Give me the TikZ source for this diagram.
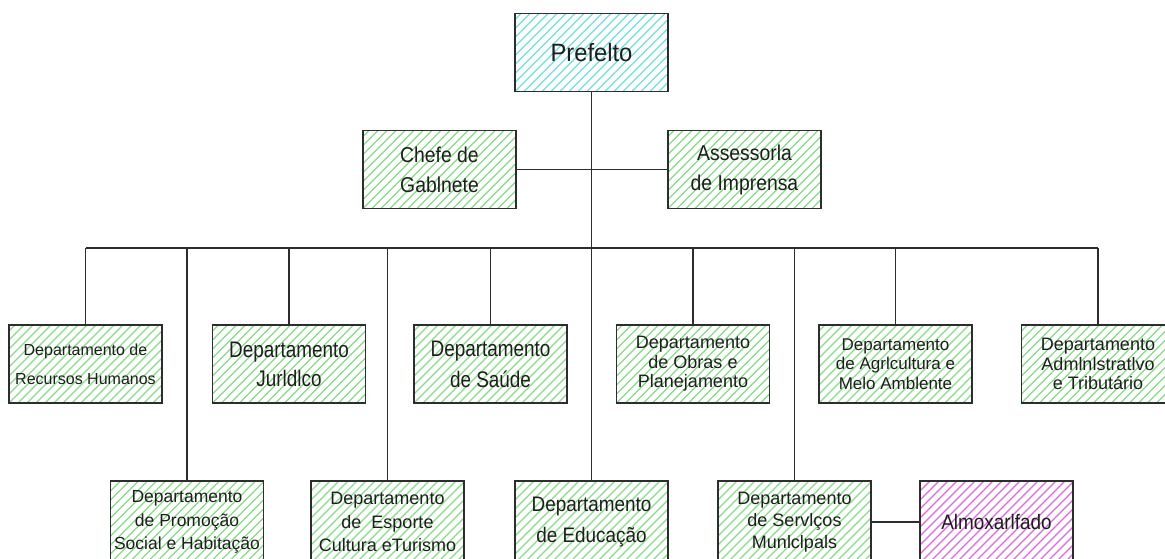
\documentclass[tikz,border=0pt]{standalone}
\usepackage{fontspec}
\setmainfont{Liberation Sans}
\newfontfamily\fNN[FakeStretch=0.84]{Liberation Sans}
\newfontfamily\fN[FakeStretch=0.9]{Liberation Sans}
\newfontfamily\fP[FakeStretch=0.95]{Liberation Sans}
\definecolor{hgreen}{RGB}{135,220,135}
\definecolor{hcyan}{RGB}{115,222,222}
\definecolor{hmag}{RGB}{222,105,222}
\definecolor{edge}{RGB}{45,45,45}
\definecolor{txt}{RGB}{30,30,30}
\tikzset{
  hatchbox/.style={draw=edge, line width=1.3pt, fill=white, align=center,
    minimum width=153pt, minimum height=78pt, inner sep=0pt, text=txt,
    path picture={\foreach \k in {-14,...,20}{
      \draw[#1, line width=1.2pt] ([xshift=\k*9pt]path picture bounding box.south west) -- ++(220pt,220pt);}}},
  gbox/.style={hatchbox=hgreen},
  lowbox/.style={minimum height=82pt},
  conn/.style={draw=edge, line width=1.3pt},
  three/.style={font=\fontsize{18}{19.5}\selectfont}
}
\begin{document}
\begin{tikzpicture}[x=1pt,y=-1pt]
\useasboundingbox (0,0) rectangle (1165,558);
% top
\node[hatchbox=hcyan, font=\fP\fontsize{25}{28}\selectfont] (pref) at (591.5,52.5) {Prefelto};
\node[gbox, font=\fN\fontsize{21.5}{30}\selectfont] (chefe) at (439.5,169.5) {Chefe de\\Gablnete};
\node[gbox, font=\fN\fontsize{21.5}{30}\selectfont] (asses) at (744.5,169.5) {Assessorla\\de Imprensa};
% first row
\node[gbox, font=\fontsize{16}{29}\selectfont] (rh) at (85.5,364) {Departamento de\\Recursos Humanos};
\node[gbox, font=\fNN\fontsize{22.5}{29}\selectfont] (jur) at (289,364) {Departamento\\Jurldlco};
\node[gbox, font=\fNN\fontsize{22.5}{31}\selectfont] (sau) at (490.5,364) {Departamento\\de Saúde};
\node[gbox, three] (obr) at (693,364) {Departamento\\de Obras e\\Planejamento};
\node[gbox, font=\fontsize{17}{19.5}\selectfont] (agr) at (895.5,364) {Departamento\\de Agrlcultura e\\Melo Amblente};
\node[gbox, three] (adm) at (1098,364) {Departamento\\Admlnlstratlvo\\e Tributário};
% second row
\node[gbox, lowbox, font=\fontsize{17.5}{23.5}\selectfont] (pro) at (187,522) {Departamento\\de Promoção\\Social e Habitação};
\node[gbox, lowbox, font=\fontsize{18}{23.5}\selectfont] (esp) at (387.5,522) {Departamento\\de~ Esporte\\Cultura eTurismo};
\node[gbox, lowbox, font=\fN\fontsize{21}{31}\selectfont] (edu) at (591.5,522) {Departamento\\de Educação};
\node[gbox, lowbox, font=\fontsize{18}{22}\selectfont] (ser) at (794.5,522) {Departamento\\de Servlços\\Munlclpals};
\node[hatchbox=hmag, lowbox, font=\fN\fontsize{21}{24}\selectfont] (alm) at (996.5,522) {Almoxarlfado};
% connectors
\coordinate (busL) at (85.5,248);
\coordinate (busR) at (1098,248);
\draw[conn] (pref.south) -- (edu.north);
\draw[conn] (chefe.east) -- (asses.west);
\draw[conn] (busL) -- (busR);
\foreach \n in {rh,jur,sau,obr,agr,adm,pro,esp,ser}{
  \draw[conn] (\n.north) -- (\n.north |- busL);
}
\draw[conn] (ser.east) -- (alm.west);
\end{tikzpicture}
\end{document}
